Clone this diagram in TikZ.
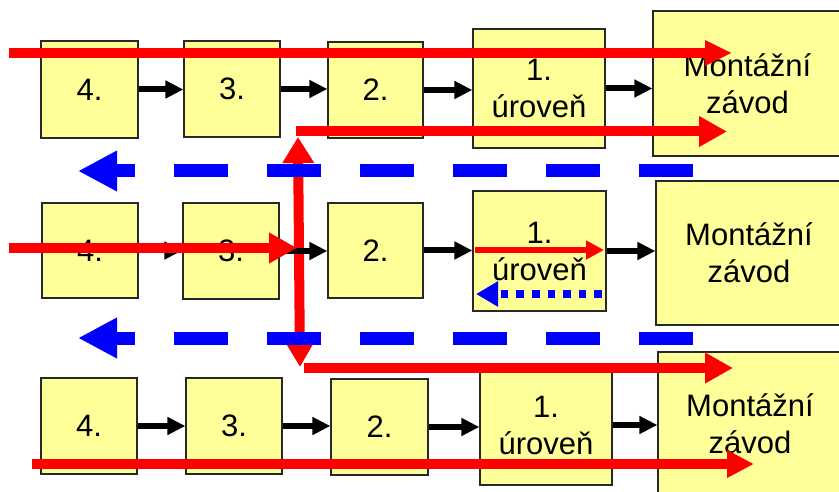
\documentclass[tikz,border=0pt]{standalone}
\usepackage{fontspec}
\setmainfont{Liberation Sans}
\usetikzlibrary{arrows.meta}
\definecolor{boxyellow}{RGB}{255,255,153}
\definecolor{boxline}{RGB}{40,40,40}
\begin{document}
\begin{tikzpicture}[x=1pt,y=-1pt,
  box/.style={draw=boxline,line width=1.2pt,fill=boxyellow,inner sep=0pt,align=center,
              font=\fontsize{31}{37}\selectfont},
  flow/.style={line width=6pt,-{Triangle[length=18pt,width=17pt]}},
  redarr/.style={draw=red,line width=10pt,-{Triangle[length=28pt,width=29pt]}},
  bluedash/.style={draw=blue,line width=13pt,dash pattern=on 54pt off 39pt,-{Triangle[length=39pt,width=38pt]}},
  bluedot/.style={draw=blue,line width=8pt,dash pattern=on 7.7pt off 7.9pt,-{Triangle[length=22pt,width=24pt]}}
]
\useasboundingbox (0,0) rectangle (839,492);
% row 1
\node[box,minimum width=97pt,minimum height=97pt] (r1b4) at (89.5,89.5) {4.};
\node[box,minimum width=96pt,minimum height=96pt] (r1b3) at (232,89) {3.};
\node[box,minimum width=95pt,minimum height=96pt] (r1b2) at (375.5,90) {2.};
\node[box,minimum width=132pt,minimum height=119pt] (r1b1) at (539,88.5) {1.\\úroveň};
\node[box,minimum width=189pt,minimum height=145pt] (r1m) at (747.5,83.5) {Montážní\\závod};
% row 2
\node[box,minimum width=96pt,minimum height=95pt] (r2b4) at (90,250.5) {4.};
\node[box,minimum width=96pt,minimum height=96pt] (r2b3) at (231,251) {3.};
\node[box,minimum width=95pt,minimum height=95pt] (r2b2) at (375.5,250.5) {2.};
\node[box,minimum width=133pt,minimum height=120pt] (r2b1) at (539.5,251) {1.\\úroveň};
\node[box,minimum width=186pt,minimum height=144pt] (r2m) at (749,253) {Montážní\\závod};
% row 3
\node[box,minimum width=96pt,minimum height=96pt] (r3b4) at (89,426) {4.};
\node[box,minimum width=96pt,minimum height=96pt] (r3b3) at (234,426) {3.};
\node[box,minimum width=97pt,minimum height=96pt] (r3b2) at (379.5,427) {2.};
\node[box,minimum width=132pt,minimum height=120pt] (r3b1) at (546,425) {1.\\úroveň};
\node[box,minimum width=184pt,minimum height=143pt] (r3m) at (750,423.5) {Montážní\\závod};

% coordinates for free-standing arrows
\coordinate (vtop) at (298,137);
\coordinate (vbot) at (300,367);
\coordinate (a1s) at (9,53);     \coordinate (a1e) at (732,53);
\coordinate (a2s) at (296,131.5); \coordinate (a2e) at (727,131.5);
\coordinate (a3s) at (9,248);    \coordinate (a3e) at (297,248);
\coordinate (a4s) at (304,368);  \coordinate (a4e) at (733,368);
\coordinate (a5s) at (32,464);   \coordinate (a5e) at (754,464);
\coordinate (a6s) at (475,250);  \coordinate (a6e) at (604,250);
\coordinate (d1s) at (693,171);  \coordinate (d1e) at (78,171);
\coordinate (d2s) at (693,338);  \coordinate (d2e) at (78,338);
\coordinate (p1s) at (602,294);  \coordinate (p1e) at (476,294);

% red vertical double arrow
\draw[draw=red,line width=10pt,{Triangle[length=26pt,width=30pt]}-{Triangle[length=23pt,width=25pt]}] (vtop) -- (vbot);

% black flow arrows
\foreach \r in {1,2,3}{
  \draw[flow] (r\r b4.east) -- (r\r b4.east -| r\r b3.west);
  \draw[flow] (r\r b3.east) -- (r\r b3.east -| r\r b2.west);
  \draw[flow] (r\r b2.east) -- (r\r b2.east -| r\r b1.west);
  \draw[flow] (r\r b1.east) -- (r\r b1.east -| r\r m.west);
}

% red horizontal arrows
\draw[redarr,-{Triangle[length=27pt,width=24pt]}] (a1s) -- (a1e);
\draw[redarr] (a2s) -- (a2e);
\draw[redarr] (a3s) -- (a3e);
\draw[redarr] (a4s) -- (a4e);
\draw[redarr,-{Triangle[length=27pt,width=26pt]}] (a5s) -- (a5e);
\draw[draw=red,line width=5.5pt,-{Triangle[length=18pt,width=18pt]}] (a6s) -- (a6e);

% blue arrows
\draw[bluedash] (d1s) -- (d1e);
\draw[bluedash] (d2s) -- (d2e);
\draw[bluedot] (p1s) -- (p1e);
\end{tikzpicture}
\end{document}
